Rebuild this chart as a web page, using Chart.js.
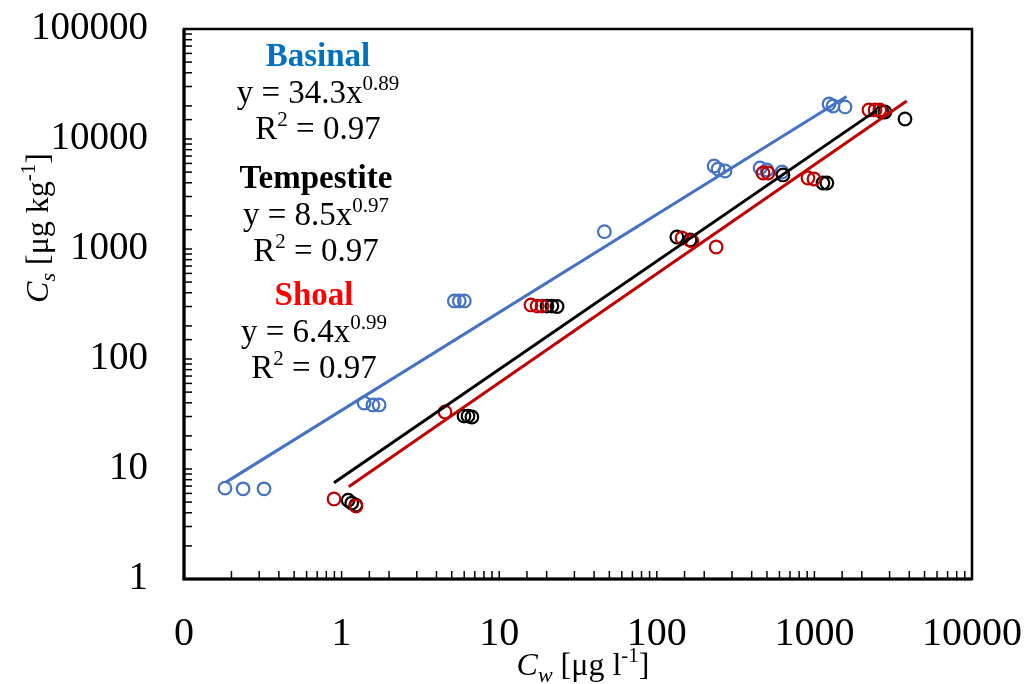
<!DOCTYPE html>
<html>
<head>
<meta charset="utf-8">
<script src="https://cdn.jsdelivr.net/npm/chart.js@4.4.1/dist/chart.umd.min.js"></script>
<style>
  html, body { margin: 0; padding: 0; background: #fff; }
  #wrap { width: 1025px; height: 684px; }
</style>
</head>
<body>
<div id="wrap"><canvas id="chart" width="1025" height="684"></canvas></div>
<script>
// values (Cw in ug/l, Cs in ug/kg)
const basinalCw = [0.182, 0.237, 0.322, 1.39, 1.58, 1.73, 5.19, 5.58, 6.01, 46.5, 231, 245, 271, 452, 500, 623, 1239, 1313, 1564];
const basinalCs = [6.7, 6.6, 6.6, 39.8, 38.2, 38.2, 337, 337, 337, 1436, 5685, 5335, 5118, 5450, 5226, 5012, 20800, 19950, 19540];

const tempCw = [1.10, 1.16, 1.23, 5.98, 6.34, 6.71, 20.1, 21.6, 23.3, 134, 162.5, 632, 1133, 1200, 2685, 2800, 3758];
const tempCs = [5.2, 4.9, 4.7, 30.3, 30.3, 29.7, 303, 303, 300, 1285, 1208, 4710, 3981, 3981, 17590, 17590, 15200];

const shoalCw = [0.895, 1.234, 4.53, 15.9, 17.4, 18.7, 144.5, 167, 238, 472, 508, 910, 994, 2218, 2425, 2600];
const shoalCs = [5.34, 4.6, 33.0, 310, 303, 303, 1259, 1183, 1043, 4909, 4909, 4420, 4329, 18360, 18360, 18360];

// trendline end points
const basinalFitCw = [0.185, 1600];
const basinalFitCs = [7.6, 24300];
const tempFitCw = [0.895, 2490];
const tempFitCs = [7.5, 18300];
const shoalFitCw = [1.11, 3850];
const shoalFitCs = [6.9, 22200];

const groupNames = ['Basinal', 'Tempestite', 'Shoal'];
const fitCoef = ['34.3', '8.5', '6.4'];
const fitExp = ['0.89', '0.97', '0.99'];
const fitR2 = ['0.97', '0.97', '0.97'];

const BLUE = '#4472C4', RED = '#C00000', BLACK = '#000000';
const FONT = 'Liberation Serif';

const pts = (xs, ys) => xs.map((x, i) => ({x, y: ys[i]}));

const scatter = (label, xs, ys, color) => ({
  label, data: pts(xs, ys), showLine: false,
  pointStyle: 'circle', pointRadius: 6.3, pointBorderWidth: 2.2,
  pointBorderColor: color, pointBackgroundColor: 'rgba(0,0,0,0)'
});
const fit = (label, xs, ys, color) => ({
  label, data: pts(xs, ys), showLine: true, borderColor: color, borderWidth: 3,
  pointRadius: 0, fill: false
});

function drawRich(ctx, segs, cx, base) {
  let w = 0;
  segs.forEach(s => { ctx.font = s.f; w += ctx.measureText(s.t).width; });
  let x = cx - w / 2;
  segs.forEach(s => {
    ctx.font = s.f; ctx.fillStyle = s.c || '#000';
    ctx.fillText(s.t, x, base + (s.dy || 0));
    x += ctx.measureText(s.t).width;
  });
}

const decor = {
  id: 'decor',
  afterDraw(chart) {
    const {ctx, chartArea: a, scales: {x, y}} = chart;
    ctx.save();
    // inside ticks
    ctx.strokeStyle = '#000'; ctx.lineWidth = 1.5;
    x.ticks.forEach(t => {
      const px = x.getPixelForValue(t.value);
      if (px <= a.left + 2 || px >= a.right - 2) return;
      ctx.beginPath(); ctx.moveTo(px, a.bottom); ctx.lineTo(px, a.bottom - 8); ctx.stroke();
    });
    y.ticks.forEach(t => {
      const py = y.getPixelForValue(t.value);
      if (py <= a.top + 2 || py >= a.bottom - 2) return;
      ctx.beginPath(); ctx.moveTo(a.left, py); ctx.lineTo(a.left + 8, py); ctx.stroke();
    });
    // frame
    ctx.lineWidth = 2.5;
    ctx.strokeRect(a.left, a.top, a.right - a.left, a.bottom - a.top);
    ctx.lineWidth = 3.2;
    ctx.beginPath(); ctx.moveTo(a.left, a.top); ctx.lineTo(a.left, a.bottom); ctx.lineTo(a.right, a.bottom); ctx.stroke();

    // fit annotations
    ctx.textAlign = 'left'; ctx.textBaseline = 'alphabetic';
    const N = `33px ${FONT}`, B = `bold 33px ${FONT}`, S = `21px ${FONT}`;
    const colors = ['#0070C0', '#000000', '#FF0000'];
    const bases = [66, 188, 305];
    groupNames.forEach((g, i) => {
      const cx = 318 - i * 2, b = bases[i];
      drawRich(ctx, [{t: g, f: B, c: colors[i]}], cx, b);
      drawRich(ctx, [{t: 'y = ' + fitCoef[i] + 'x', f: N}, {t: fitExp[i], f: S, dy: -13}], cx, b + 37);
      drawRich(ctx, [{t: 'R', f: N}, {t: '2', f: S, dy: -13}, {t: ' = ' + fitR2[i], f: N}], cx, b + 73);
    });

    // axis titles
    const I = `italic 32px ${FONT}`, IS = `italic 22px ${FONT}`, NT = `32px ${FONT}`;
    drawRich(ctx, [{t: 'C', f: I}, {t: 'w', f: IS, dy: 7}, {t: ' [μg l', f: NT}, {t: '-1', f: S, dy: -13}, {t: ']', f: NT}], 583, 675);
    ctx.translate(48, 228); ctx.rotate(-Math.PI / 2);
    drawRich(ctx, [{t: 'C', f: I}, {t: 's', f: IS, dy: 7}, {t: ' [μg kg', f: NT}, {t: '-1', f: S, dy: -13}, {t: ']', f: NT}], 0, 0);
    ctx.restore();
  }
};

const isDecade = v => Math.abs(Math.log10(v) - Math.round(Math.log10(v))) < 1e-6;
const noPad = s => { s.paddingTop = 0; s.paddingBottom = 0; s.paddingLeft = 0; s.paddingRight = 0; };

new Chart(document.getElementById('chart'), {
  type: 'scatter',
  data: {
    datasets: [
      fit('Basinal fit', basinalFitCw, basinalFitCs, BLUE),
      fit('Tempestite fit', tempFitCw, tempFitCs, BLACK),
      fit('Shoal fit', shoalFitCw, shoalFitCs, RED),
      scatter('Shoal', shoalCw, shoalCs, RED),
      scatter('Tempestite', tempCw, tempCs, BLACK),
      scatter('Basinal', basinalCw, basinalCs, BLUE)
    ]
  },
  options: {
    responsive: false,
    animation: false,
    devicePixelRatio: 1,
    layout: {padding: {top: 29, right: 53, bottom: 0, left: 0}},
    plugins: {legend: {display: false}, tooltip: {enabled: false}},
    scales: {
      x: {
        type: 'logarithmic', min: 0.1, max: 10000,
        grid: {display: false, drawTicks: false},
        border: {display: false},
        ticks: {
          autoSkip: false, maxRotation: 0, padding: 31, color: '#000',
          font: {family: FONT, size: 40},
          callback: v => isDecade(v) ? (v < 1 ? '0' : String(Math.round(v))) : ''
        },
        afterFit: s => { s.height = 105; noPad(s); }
      },
      y: {
        type: 'logarithmic', min: 1, max: 100000,
        grid: {display: false, drawTicks: false},
        border: {display: false},
        ticks: {
          autoSkip: false, padding: 36, color: '#000',
          font: {family: FONT, size: 39},
          callback: v => isDecade(v) ? String(Math.round(v)) : ''
        },
        afterFit: s => { s.width = 184; noPad(s); }
      }
    }
  },
  plugins: [decor]
});
</script>
</body>
</html>
